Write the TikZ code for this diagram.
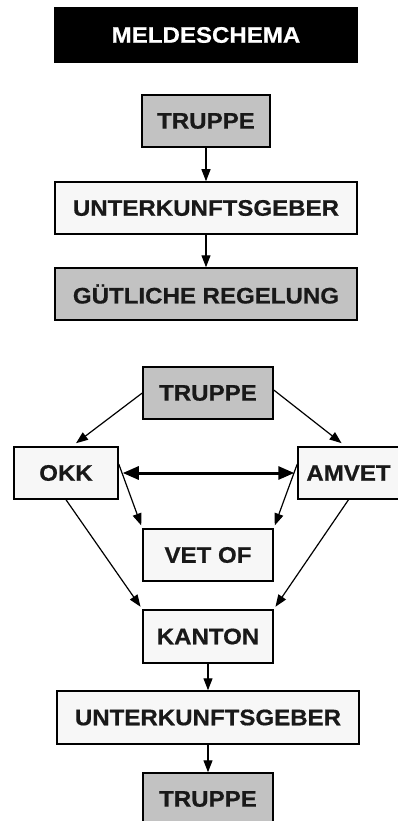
\documentclass[tikz,border=0pt]{standalone}
\usepackage{fontspec}
\setmainfont{Liberation Sans}[BoldFeatures={FakeStretch=1.07,FakeBold=0.6}]
\usetikzlibrary{arrows.meta}
\definecolor{boxgray}{gray}{0.76}
\definecolor{boxwhite}{gray}{0.97}
\begin{document}
\begin{tikzpicture}[x=1pt,y=-1pt,
  base/.style={draw=black,line width=1.5pt,inner sep=0pt,font=\fontsize{22.5}{24}\selectfont\bfseries,text=black!90},
  graybox/.style={base,fill=boxgray},
  whitebox/.style={base,fill=boxwhite},
  arr/.style={line width=1.2pt,-{Triangle[length=12pt,width=9pt]}},
  dblarr/.style={line width=3pt,{Triangle[length=16pt,width=13pt]}-{Triangle[length=16pt,width=13pt]}}]
\useasboundingbox (0,0) rectangle (398,821);
\fill[white] (0,0) rectangle (398,821);
\node[base,fill=black,text=white,minimum width=302pt,minimum height=54pt] (title) at (206,35) {MELDESCHEMA};
\node[graybox,minimum width=128pt,minimum height=52pt] (t1) at (206,121) {TRUPPE};
\node[whitebox,minimum width=302pt,minimum height=52pt] (u1) at (206,208) {UNTERKUNFTSGEBER};
\node[graybox,minimum width=302pt,minimum height=52pt] (g) at (206,294) {GÜTLICHE REGELUNG};
\node[graybox,minimum width=130pt,minimum height=52pt] (t2) at (208,393) {TRUPPE};
\node[whitebox,minimum width=104pt,minimum height=52pt] (okk) at (66,473) {OKK};
\node[whitebox,minimum width=101pt,minimum height=52pt] (amvet) at (348.5,473) {AMVET};
\node[whitebox,minimum width=130pt,minimum height=52pt] (vet) at (208,555) {VET OF};
\node[whitebox,minimum width=130pt,minimum height=53pt] (kanton) at (208,636.5) {KANTON};
\node[whitebox,minimum width=302pt,minimum height=53pt] (u2) at (208,717.5) {UNTERKUNFTSGEBER};
\node[graybox,minimum width=130pt,minimum height=52pt] (t3) at (208,799) {TRUPPE};
\draw[arr] (t1) -- (u1);
\draw[arr] (u1) -- (g);
\draw[arr,shorten >=5pt] (t2.west) -- ([xshift=6pt]okk.north);
\draw[arr,shorten >=5pt] ([yshift=3pt]t2.east) -- ([xshift=-3pt]amvet.north);
\draw[dblarr,shorten <=4pt,shorten >=3pt] (okk.east) -- (amvet.west);
\draw[arr,shorten >=3pt] ([yshift=9pt]okk.east) -- (vet.north west);
\draw[arr,shorten >=3pt] ([yshift=9pt]amvet.west) -- (vet.north east);
\draw[arr,shorten >=3pt] (okk.south) -- (kanton.north west);
\draw[arr,shorten >=3pt] (amvet.south) -- (kanton.north east);
\draw[arr] (kanton) -- (u2);
\draw[arr] (u2) -- (t3);
\end{tikzpicture}
\end{document}
